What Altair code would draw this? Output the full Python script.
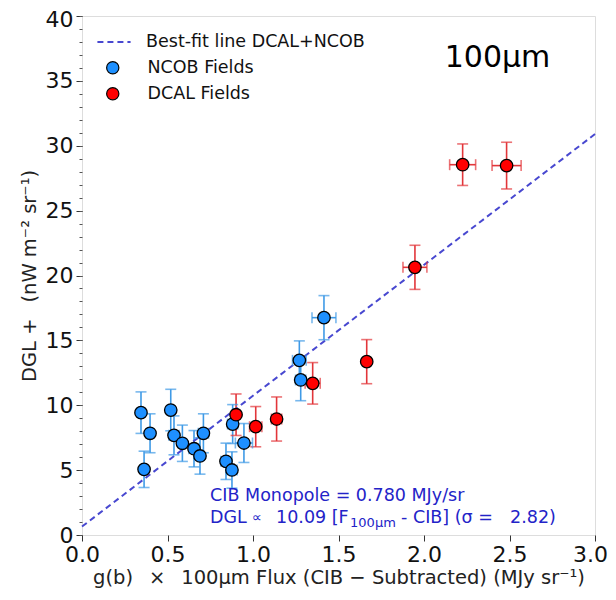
import altair as alt
import pandas as pd

# ---- data ----
ncob_x = [0.345, 0.398, 0.363, 0.519, 0.538, 0.587, 0.655, 0.690, 0.710, 0.881, 0.842, 0.877, 0.947, 1.271, 1.279, 1.415]
ncob_y = [9.43, 7.84, 5.06, 9.63, 7.68, 7.07, 6.65, 6.09, 7.84, 8.55, 5.68, 5.01, 7.09, 13.46, 11.95, 16.75]
ncob_xerr = [0.02, 0.02, 0.02, 0.02, 0.03, 0.02, 0.03, 0.02, 0.03, 0.03, 0.03, 0.03, 0.05, 0.04, 0.03, 0.07]
ncob_yerr = [1.6, 1.5, 1.4, 1.6, 1.5, 1.4, 1.4, 1.4, 1.5, 1.5, 1.4, 1.4, 1.5, 1.5, 1.6, 1.7]

dcal_x = [0.901, 1.016, 1.138, 1.349, 1.665, 1.947, 2.226, 2.483]
dcal_y = [9.27, 8.35, 8.94, 11.69, 13.36, 20.63, 28.54, 28.47]
dcal_xerr = [0.02, 0.036, 0.03, 0.044, 0.02, 0.07, 0.076, 0.085]
dcal_yerr = [1.6, 1.55, 1.7, 1.6, 1.7, 1.7, 1.6, 1.8]

fit_x = [0.0, 3.0]
fit_y = [0.65, 30.9]
fit_label = "Best-fit line DCAL+NCOB"

groups = ["NCOB Fields", "DCAL Fields"]
fill_colors = ["#1e90ff", "#ff0000"]
bar_colors = ["#3f9ae6", "#e2363a"]

x_ticks = [0, 0.5, 1.0, 1.5, 2.0, 2.5, 3.0]
y_major = [0, 5, 10, 15, 20, 25, 30, 35, 40]
y_minor = list(range(0, 41))

ann_text = ["CIB Monopole = 0.780 MJy/sr"]
# second annotation line, split into pieces (text, font size, dx, dy)
ann2_parts = ["DGL", "\u221d", "10.09 [F", "100\u03bcm", "- CIB] (\u03c3 =", "2.82)"]
ann2_sizes = [17.5, 14, 17.5, 13, 17.5, 17.5]
ann2_dx = [0, 42, 66, 140, 191, 300]
ann2_dy = [0, 0, 0, 5, 0, 0]
panel_label = "100\u03bcm"

FONT = "DejaVu Sans"
ANN_COLOR = "#2323c8"
SP = "\u2002 "

pts = pd.concat([
    pd.DataFrame({"x": ncob_x, "y": ncob_y, "xerr": ncob_xerr, "yerr": ncob_yerr, "group": groups[0]}),
    pd.DataFrame({"x": dcal_x, "y": dcal_y, "xerr": dcal_xerr, "yerr": dcal_yerr, "group": groups[1]}),
], ignore_index=True)

xs = alt.Scale(domain=[0, 3], nice=False, zero=False)
ys = alt.Scale(domain=[0, 40], nice=False, zero=False)

x_axis = alt.Axis(values=x_ticks, format=".1f", grid=False, labelFlush=False,
                  labelOffset={"condition": {"test": "datum.value >= 3", "value": -5}, "value": 0},
                  labelFontSize=22, labelFont=FONT, titleFont=FONT, titleFontSize=19.5,
                  titleFontWeight="normal", titleColor="#222", labelColor="#111",
                  tickSize=6, tickColor="#333", domain=False, labelPadding=3, titlePadding=3,
                  title="g(b)" + SP + "\u00d7" + SP + "100\u03bcm Flux (CIB \u2212 Subtracted) (MJy sr\u207b\u00b9)")
y_axis = alt.Axis(values=y_major, grid=False, orient="left", labelFlush=False,
                  labelOffset={"condition": {"test": "datum.value >= 40", "value": 3}, "value": 0},
                  labelFontSize=22, labelFont=FONT, titleFont=FONT, titleFontSize=19.5,
                  titleFontWeight="normal", titleColor="#222", labelColor="#111",
                  tickSize=6, tickColor="#333", domain=False, labelPadding=3, titlePadding=6,
                  title="DGL +" + SP + "(nW m\u207b\u00b2 sr\u207b\u00b9)")
y_minor_axis = alt.Axis(values=y_minor, grid=False, orient="left", labels=False, title=None,
                        tickSize=3, tickColor="#555", domain=False)

base = alt.Chart(pts)
color_bar = alt.Color("group:N", scale=alt.Scale(domain=groups, range=bar_colors), legend=None)

vbars = base.mark_rule(strokeWidth=1.6).transform_calculate(
    ylo="datum.y - datum.yerr", yhi="datum.y + datum.yerr"
).encode(x=alt.X("x:Q", scale=xs, axis=x_axis), y=alt.Y("ylo:Q", scale=ys, axis=y_axis), y2="yhi:Q", color=color_bar)

hbars = base.mark_rule(strokeWidth=1.6).transform_calculate(
    xlo="datum.x - datum.xerr", xhi="datum.x + datum.xerr"
).encode(x=alt.X("xlo:Q", scale=xs), x2="xhi:Q", y=alt.Y("y:Q", scale=ys, axis=y_minor_axis), color=color_bar)

caps_top = base.mark_tick(orient="horizontal", size=11, thickness=1.6).transform_calculate(
    yc="datum.y + datum.yerr").encode(x=alt.X("x:Q", scale=xs), y=alt.Y("yc:Q", scale=ys, axis=None), color=color_bar)
caps_bot = base.mark_tick(orient="horizontal", size=11, thickness=1.6).transform_calculate(
    yc="datum.y - datum.yerr").encode(x=alt.X("x:Q", scale=xs), y=alt.Y("yc:Q", scale=ys, axis=None), color=color_bar)
caps_left = base.mark_tick(orient="vertical", size=11, thickness=1.6).transform_calculate(
    xc="datum.x - datum.xerr").encode(x=alt.X("xc:Q", scale=xs), y=alt.Y("y:Q", scale=ys, axis=None), color=color_bar)
caps_right = base.mark_tick(orient="vertical", size=11, thickness=1.6).transform_calculate(
    xc="datum.x + datum.xerr").encode(x=alt.X("xc:Q", scale=xs), y=alt.Y("y:Q", scale=ys, axis=None), color=color_bar)

points = base.mark_point(filled=True, size=155, stroke="black", strokeWidth=1.3, opacity=1, shape="circle").encode(
    x=alt.X("x:Q", scale=xs), y=alt.Y("y:Q", scale=ys, axis=None),
    fill=alt.Fill("group:N", scale=alt.Scale(domain=groups, range=fill_colors),
                  legend=alt.Legend(title=None, orient="none", legendX=14, legendY=43,
                                    symbolType="circle", symbolSize=150, symbolStrokeColor="black",
                                    symbolStrokeWidth=1.2, labelFontSize=17.5, labelFont=FONT,
                                    labelColor="#111", rowPadding=7, labelOffset=26, symbolOffset=8,
                                    labelLimit=400))
)

fit_df = pd.DataFrame({"x": fit_x, "y": fit_y, "s": fit_label})
fit_line = alt.Chart(fit_df).mark_line(color="#4848d0", strokeWidth=2).encode(
    x=alt.X("x:Q", scale=xs), y=alt.Y("y:Q", scale=ys, axis=None),
    strokeDash=alt.StrokeDash("s:N", scale=alt.Scale(domain=[fit_label], range=[[6, 4]]),
                              legend=alt.Legend(title=None, orient="none", legendX=14, legendY=8,
                                                symbolType="stroke", symbolSize=1100,
                                                symbolStrokeColor="#4848d0", symbolStrokeWidth=2,
                                                labelFontSize=17.5, labelFont=FONT, labelColor="#111",
                                                labelOffset=14, labelLimit=400))
)

ann1 = alt.Chart(pd.DataFrame({"x": [0.749], "y": [3.0], "t": ann_text})).mark_text(
    align="left", baseline="middle", fontSize=17.5, font=FONT, color=ANN_COLOR
).encode(x=alt.X("x:Q", scale=xs), y=alt.Y("y:Q", scale=ys, axis=None), text="t:N")

ann2_df = pd.DataFrame({"x": [0.749], "y": [1.3]})
ann2_layers = []
for txt, fs, dx, dy in zip(ann2_parts, ann2_sizes, ann2_dx, ann2_dy):
    ann2_layers.append(
        alt.Chart(ann2_df).mark_text(align="left", baseline="middle", fontSize=fs, font=FONT,
                                     color=ANN_COLOR, text=txt, dx=dx, dy=dy).encode(
            x=alt.X("x:Q", scale=xs), y=alt.Y("y:Q", scale=ys, axis=None))
    )

panel = alt.Chart(pd.DataFrame({"x": [2.43], "y": [36.8], "t": [panel_label]})).mark_text(
    align="center", baseline="middle", fontSize=30, font=FONT, color="black"
).encode(x=alt.X("x:Q", scale=xs), y=alt.Y("y:Q", scale=ys, axis=None), text="t:N")

chart = alt.layer(
    vbars, hbars, fit_line, caps_top, caps_bot, caps_left, caps_right, points,
    ann1, *ann2_layers, panel
).resolve_scale(color="independent").resolve_axis(y="independent").properties(
    width=513, height=519,
    autosize=alt.AutoSizeParams(type="none"),
    padding={"left": 74, "top": 8, "right": 13, "bottom": 57},
).configure_view(stroke="#222", strokeWidth=1.2).configure(background="white")

chart.save("out.html", embed_options={"renderer": "svg", "actions": False})
